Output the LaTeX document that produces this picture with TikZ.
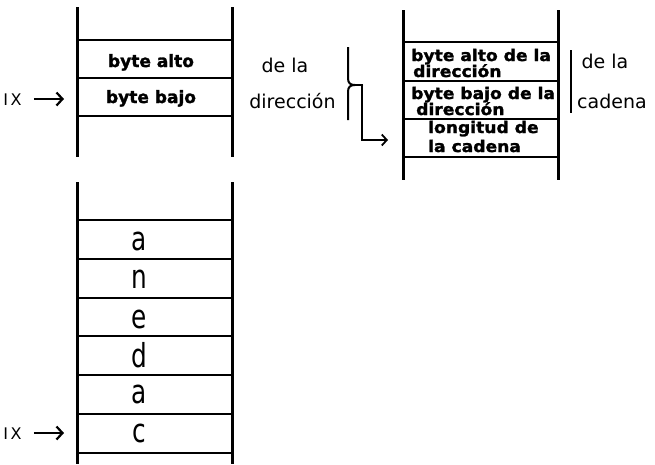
\documentclass[tikz,border=0pt]{standalone}
\usepackage{fontspec}
\usepackage{graphicx}
\setmainfont{DejaVu Sans}
\newfontfamily\chic{DejaVu Sans Bold}[FakeBold=1.6]
\usetikzlibrary{arrows.meta}
\tikzset{
  vln/.style={line width=3pt},
  hln/.style={line width=2.2pt},
  bld/.style={font=\chic\fontsize{17}{17}\selectfont, inner sep=0pt, anchor=base},
  bls/.style={font=\chic\fontsize{16}{16}\selectfont, inner sep=0pt, anchor=base west},
  thn/.style={font=\fontsize{19}{19}\selectfont, inner sep=0pt, anchor=base},
  big/.style={font=\fontsize{33}{33}\selectfont, inner sep=0pt, anchor=base},
  ixl/.style={font=\fontsize{16}{16}\selectfont, inner sep=0pt, anchor=base},
  ptr/.style={line width=2.4pt, -{Straight Barb[length=6pt,width=13pt,line width=2.2pt]}},
  brc/.style={line width=2pt},
}
\newcommand{\widen}[1]{\scalebox{1.07}[1]{#1}}
\begin{document}
\begin{tikzpicture}[x=1pt,y=-1pt]
\useasboundingbox (0,0) rectangle (655,464);
% ---------- top-left stack ----------
\draw[vln] (77,7) -- (77,157);
\draw[vln] (232,7) -- (232,157);
\foreach \yy in {40,78,116} \draw[hln] (77,\yy) -- (232,\yy);
\node[bld] (alto) at (151,67) {byte alto};
\node[bld] (bajo) at (151,103) {byte bajo};
\node[ixl] (ix1) at (12.5,105) {I\,X};
\coordinate (ix1t) at (64,99);
\draw[ptr] (ix1.east |- ix1t) ++(12,0) -- (ix1t);
\node[thn] (dela1) at (285,72) {de la};
\node[thn] (dir1) at (292.5,108) {dirección};
% brace and arrow
\coordinate (bt) at (348,47);
\coordinate (bk) at (355,85);
\coordinate (bb) at (348,120);
\coordinate (bturn) at (362,140);
\coordinate (bend) at (388,140);
\draw[brc] (bt) -- (348,78) .. controls (348,83) and (350,85) .. (bk)
  .. controls (350,85) and (348,87) .. (348,92) -- (bb);
\draw[brc, -{Straight Barb[length=5pt,width=11pt,line width=1.8pt]}]
  (bk) -- (362,85) -- (bturn) -- (bend);
% ---------- top-right stack ----------
\draw[vln] (403,10) -- (403,180);
\draw[vln] (558,10) -- (558,180);
\foreach \yy in {42,81,119,157} \draw[hln] (403,\yy) -- (558,\yy);
\node[bls] (r1a) at (411,61) {\widen{byte alto de la}};
\node[bls] (r1b) at (413,77) {\widen{dirección}};
\node[bls] (r2a) at (411,99) {\widen{byte bajo de la}};
\node[bls] (r2b) at (416,115) {\widen{dirección}};
\node[bls] (r3a) at (428,133) {\widen{longitud de}};
\node[bls] (r3b) at (428,152) {\widen{la cadena}};
\draw[line width=1.5pt] (571,50) -- (571,113);
\node[thn] (dela2) at (605,68) {de la};
\node[thn] (cad2) at (612,108) {cadena};
% ---------- bottom stack ----------
\draw[vln] (77,182) -- (77,464);
\draw[vln] (232,182) -- (232,464);
\foreach \yy in {220,259,298,336,375,414,453} \draw[hln] (77,\yy) -- (232,\yy);
\node[big] (c1) at (139,250) {\scalebox{0.75}[1]{a}};
\node[big] (c2) at (139,288) {\scalebox{0.75}[1]{n}};
\node[big] (c3) at (139,328) {\scalebox{0.75}[1]{e}};
\node[big] (c4) at (139,367) {\scalebox{0.75}[1]{d}};
\node[big] (c5) at (139,403) {\scalebox{0.75}[1]{a}};
\node[big] (c6) at (139,442) {\scalebox{0.75}[1]{c}};
\node[ixl] (ix2) at (12.5,439) {I\,X};
\coordinate (ix2t) at (64,433);
\draw[ptr] (ix2.east |- ix2t) ++(12,0) -- (ix2t);
\end{tikzpicture}
\end{document}
